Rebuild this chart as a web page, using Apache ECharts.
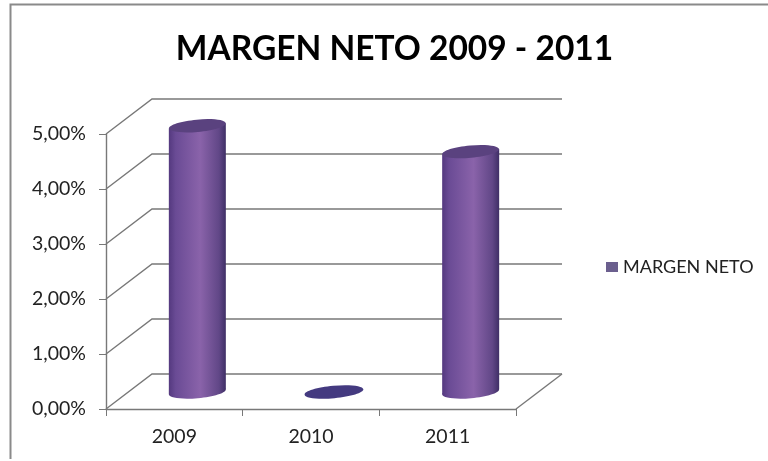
<!DOCTYPE html>
<html>
<head>
<meta charset="utf-8">
<script src="https://cdn.jsdelivr.net/npm/echarts@6/dist/echarts.min.js"></script>
<style>
  html, body { margin: 0; padding: 0; background: #fff; }
  #chart { width: 768px; height: 461px; }
</style>
</head>
<body>
<div id="chart"></div>
<script>
// Net margin per year, in percent
const years = ['2009', '2010', '2011'];
const margins = [4.84, 0, 4.37];
const valueTicks = [0, 1, 2, 3, 4, 5];

// Pseudo-3D box: how far the back wall sits from the front plane
const DEPTH_X = 46;
const DEPTH_Y = -35;
const LINE = '#787878';

const chart = echarts.init(document.getElementById('chart'));

// Wall grid lines: front tick -> back wall -> across the back wall
function renderWall(params, api) {
  const v = api.value(0);
  const front = api.coord([0, v]);
  const left = params.coordSys.x;
  const right = left + params.coordSys.width;
  const y = front[1];
  const children = [{
    type: 'polyline',
    shape: { points: [[left, y], [left + DEPTH_X, y + DEPTH_Y], [right + DEPTH_X, y + DEPTH_Y]] },
    style: { stroke: LINE, lineWidth: 1.4, fill: null }
  }];
  if (v === 0) {
    children.push({
      type: 'line',
      shape: { x1: right, y1: y, x2: right + DEPTH_X, y2: y + DEPTH_Y },
      style: { stroke: LINE, lineWidth: 1.4 }
    });
  }
  return { type: 'group', children };
}

// Cylinder standing midway between the front plane and the back wall
function renderCylinder(params, api) {
  const base = api.coord([api.value(0), 0]);
  const top = api.coord([api.value(0), api.value(1)]);
  const cx = base[0] + DEPTH_X / 2;
  const botY = base[1] + DEPTH_Y / 2 + 0.5;
  const topY = top[1] + DEPTH_Y / 2 + 0.5;
  const rx = 28.5, ry = 6.2, tilt = 0.09, dy = rx * Math.sin(tilt);
  const side = new echarts.graphic.LinearGradient(0, 0, 1, 0, [
    { offset: 0, color: '#54397f' },
    { offset: 0.12, color: '#6a4b95' },
    { offset: 0.55, color: '#8a63aa' },
    { offset: 0.88, color: '#614787' },
    { offset: 1, color: '#3f2f66' }
  ]);
  const ellipse = (cy, fill, radiusX) => ({
    type: 'ellipse',
    x: cx, y: cy, rotation: tilt,
    shape: { cx: 0, cy: 0, rx: radiusX, ry },
    style: { fill }
  });
  const children = [];
  if (api.value(1) > 0) {
    children.push(ellipse(botY, side, rx));
    children.push({
      type: 'polygon',
      shape: { points: [
        [cx - rx, topY + dy], [cx + rx, topY - dy],
        [cx + rx, botY - dy], [cx - rx, botY + dy]
      ] },
      style: { fill: side }
    });
    children.push(ellipse(topY, '#5a427f', rx));
  } else {
    children.push(ellipse(botY, '#443a80', rx + 1));
  }
  return { type: 'group', children };
}

chart.setOption({
  animation: false,
  backgroundColor: '#ffffff',
  title: {
    text: 'MARGEN NETO 2009 - 2011',
    left: 389.5, top: 27, textAlign: 'center',
    textStyle: { fontFamily: 'Lato', fontSize: 33.5, fontWeight: 'bold', color: '#000' }
  },
  legend: {
    left: 606, top: 258,
    itemWidth: 12, itemHeight: 10, itemGap: 6,
    icon: 'rect',
    data: ['MARGEN NETO'],
    textStyle: { fontFamily: 'Lato', fontSize: 18, color: '#222', padding: [0, 0, 0, 0] },
    padding: 0
  },
  grid: { left: 106, top: 134, width: 410, height: 275 },
  xAxis: {
    type: 'category',
    data: years,
    axisLine: { lineStyle: { color: LINE, width: 1.4 } },
    axisTick: { show: true, length: 7, lineStyle: { color: LINE } },
    axisLabel: { margin: 18, fontFamily: 'Lato', fontSize: 19.5, color: '#222' },
    splitLine: { show: false }
  },
  yAxis: {
    type: 'value',
    min: 0, max: 5, interval: 1,
    axisLine: { show: true, lineStyle: { color: LINE, width: 1.4 } },
    axisTick: { show: true, length: 7, lineStyle: { color: LINE } },
    axisLabel: {
      margin: 20, fontFamily: 'Lato', fontSize: 19.5, color: '#222',
      padding: [3, 0, 0, 0],
      formatter: v => v.toFixed(2).replace('.', ',') + '%'
    },
    splitLine: { show: false }
  },
  series: [
    {
      type: 'custom',
      name: 'wall',
      silent: true,
      clip: false,
      renderItem: renderWall,
      encode: { y: 0 },
      data: valueTicks.map(v => [v]),
      z: 1
    },
    {
      type: 'custom',
      name: 'MARGEN NETO',
      clip: false,
      renderItem: renderCylinder,
      itemStyle: { color: '#6b5f8e' },
      encode: { x: 0, y: 1 },
      data: years.map((y, i) => [i, margins[i]]),
      z: 2
    }
  ],
  // Frame: only the top and left edges are drawn
  graphic: [{
    type: 'polyline',
    silent: true,
    shape: { points: [[10.5, 459], [10.5, 4.5], [768, 4.5]] },
    style: { fill: null, stroke: '#8a8a8a', lineWidth: 2 },
    z: 0
  }]
});
</script>
</body>
</html>
